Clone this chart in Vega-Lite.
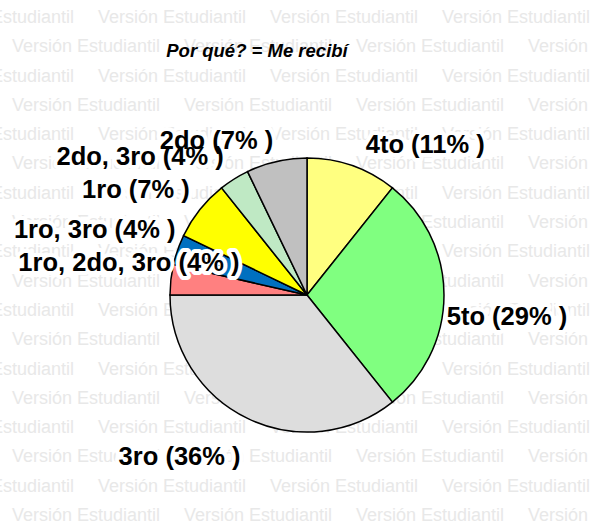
{
  "$schema": "https://vega.github.io/schema/vega-lite/v6.json",
  "width": 560,
  "height": 464,
  "autosize": "none",
  "padding": {"left": 27, "top": 63, "right": 6, "bottom": 0},
  "background": "white",
  "config": {"view": {"stroke": null}},
  "title": {
    "text": "Por qué? = Me recibí",
    "font": "Liberation Sans",
    "fontSize": 18.5,
    "fontWeight": "bold",
    "fontStyle": "italic",
    "color": "black",
    "anchor": "middle",
    "frame": "group",
    "dx": -50,
    "dy": 75,
    "offset": 9,
    "baseline": "alphabetic"
  },
  "datasets": {
    "slices": [
      {"cat": "4to", "n": 3, "ord": 1, "label": "4to (11% )"},
      {"cat": "5to", "n": 8, "ord": 2, "label": "5to (29% )"},
      {"cat": "3ro", "n": 10, "ord": 3, "label": "3ro (36% )"},
      {"cat": "1ro, 2do, 3ro", "n": 1, "ord": 4, "label": "1ro, 2do, 3ro (4% )"},
      {"cat": "1ro, 3ro", "n": 1, "ord": 5, "label": "1ro, 3ro (4% )"},
      {"cat": "1ro", "n": 2, "ord": 6, "label": "1ro (7% )"},
      {"cat": "2do, 3ro", "n": 1, "ord": 7, "label": "2do, 3ro (4% )"},
      {"cat": "2do", "n": 2, "ord": 8, "label": "2do (7% )"}
    ],
    "wm": [
      {"k": 0, "c": -0.5}, {"k": 0, "c": 0.5}, {"k": 0, "c": 1.5}, {"k": 0, "c": 2.5},
      {"k": 1, "c": 0}, {"k": 1, "c": 1}, {"k": 1, "c": 2}, {"k": 1, "c": 3},
      {"k": 2, "c": -0.5}, {"k": 2, "c": 0.5}, {"k": 2, "c": 1.5}, {"k": 2, "c": 2.5},
      {"k": 3, "c": 0}, {"k": 3, "c": 1}, {"k": 3, "c": 2}, {"k": 3, "c": 3},
      {"k": 4, "c": -0.5}, {"k": 4, "c": 0.5}, {"k": 4, "c": 1.5}, {"k": 4, "c": 2.5},
      {"k": 5, "c": 0}, {"k": 5, "c": 1}, {"k": 5, "c": 2}, {"k": 5, "c": 3},
      {"k": 6, "c": -0.5}, {"k": 6, "c": 0.5}, {"k": 6, "c": 1.5}, {"k": 6, "c": 2.5},
      {"k": 7, "c": 0}, {"k": 7, "c": 1}, {"k": 7, "c": 2}, {"k": 7, "c": 3},
      {"k": 8, "c": -0.5}, {"k": 8, "c": 0.5}, {"k": 8, "c": 1.5}, {"k": 8, "c": 2.5},
      {"k": 9, "c": 0}, {"k": 9, "c": 1}, {"k": 9, "c": 2}, {"k": 9, "c": 3},
      {"k": 10, "c": -0.5}, {"k": 10, "c": 0.5}, {"k": 10, "c": 1.5}, {"k": 10, "c": 2.5},
      {"k": 11, "c": 0}, {"k": 11, "c": 1}, {"k": 11, "c": 2}, {"k": 11, "c": 3},
      {"k": 12, "c": -0.5}, {"k": 12, "c": 0.5}, {"k": 12, "c": 1.5}, {"k": 12, "c": 2.5},
      {"k": 13, "c": 0}, {"k": 13, "c": 1}, {"k": 13, "c": 2}, {"k": 13, "c": 3},
      {"k": 14, "c": -0.5}, {"k": 14, "c": 0.5}, {"k": 14, "c": 1.5}, {"k": 14, "c": 2.5},
      {"k": 15, "c": 0}, {"k": 15, "c": 1}, {"k": 15, "c": 2}, {"k": 15, "c": 3},
      {"k": 16, "c": -0.5}, {"k": 16, "c": 0.5}, {"k": 16, "c": 1.5}, {"k": 16, "c": 2.5},
      {"k": 17, "c": 0}, {"k": 17, "c": 1}, {"k": 17, "c": 2}, {"k": 17, "c": 3}
    ]
  },
  "layer": [
    {
      "data": {"name": "wm"},
      "mark": {
        "type": "text",
        "text": "Versión Estudiantil",
        "align": "left",
        "baseline": "middle",
        "font": "Liberation Sans",
        "fontSize": 18,
        "fill": "#e8e8e8"
      },
      "encoding": {
        "x": {"field": "c", "type": "quantitative", "axis": null,
              "scale": {"domain": [0, 3], "range": [-15, 501], "nice": false, "zero": false}},
        "y": {"field": "k", "type": "quantitative", "axis": null,
              "scale": {"domain": [0, 17], "range": [-45, 453], "nice": false, "zero": false}}
      }
    },
    {
      "data": {"name": "slices"},
      "mark": {"type": "arc", "outerRadius": 137, "stroke": "black", "strokeWidth": 1.5},
      "encoding": {
        "theta": {"field": "n", "type": "quantitative", "stack": true},
        "order": {"field": "ord", "type": "quantitative"},
        "color": {
          "field": "cat", "type": "nominal", "legend": null,
          "scale": {
            "domain": ["4to", "5to", "3ro", "1ro, 2do, 3ro", "1ro, 3ro", "1ro", "2do, 3ro", "2do"],
            "range": ["#ffff80", "#80ff80", "#dddddd", "#ff8080", "#0070c0", "#ffff00", "#bfe9c4", "#c0c0c0"]
          }
        }
      }
    },
    {
      "data": {"name": "slices"},
      "mark": {
        "type": "text", "radius": 137, "align": "center", "baseline": "middle",
        "font": "Liberation Sans", "fontSize": 25.5, "fontWeight": "bold",
        "fill": "white", "stroke": "white", "strokeWidth": 8, "strokeJoin": "round",
        "dx": {"expr": "{'4to': 73, '5to': 63, '3ro': -68, '1ro, 2do, 3ro': -42, '1ro, 3ro': -83, '1ro': -64, '2do, 3ro': -94, '2do': -60}[datum.cat]"},
        "dy": {"expr": "{'4to': -21, '5to': 22, '3ro': 39, '1ro, 2do, 3ro': -17, '1ro, 3ro': -20, '1ro': -20, '2do, 3ro': -22, '2do': -20}[datum.cat]"}
      },
      "encoding": {
        "theta": {"field": "n", "type": "quantitative", "stack": true},
        "order": {"field": "ord", "type": "quantitative"},
        "detail": {"field": "cat", "type": "nominal"},
        "text": {"field": "label", "type": "nominal"}
      }
    },
    {
      "data": {"name": "slices"},
      "mark": {
        "type": "text", "radius": 137, "align": "center", "baseline": "middle",
        "font": "Liberation Sans", "fontSize": 25.5, "fontWeight": "bold",
        "fill": "black",
        "dx": {"expr": "{'4to': 73, '5to': 63, '3ro': -68, '1ro, 2do, 3ro': -42, '1ro, 3ro': -83, '1ro': -64, '2do, 3ro': -94, '2do': -60}[datum.cat]"},
        "dy": {"expr": "{'4to': -21, '5to': 22, '3ro': 39, '1ro, 2do, 3ro': -17, '1ro, 3ro': -20, '1ro': -20, '2do, 3ro': -22, '2do': -20}[datum.cat]"}
      },
      "encoding": {
        "theta": {"field": "n", "type": "quantitative", "stack": true},
        "order": {"field": "ord", "type": "quantitative"},
        "detail": {"field": "cat", "type": "nominal"},
        "text": {"field": "label", "type": "nominal"}
      }
    }
  ]
}
